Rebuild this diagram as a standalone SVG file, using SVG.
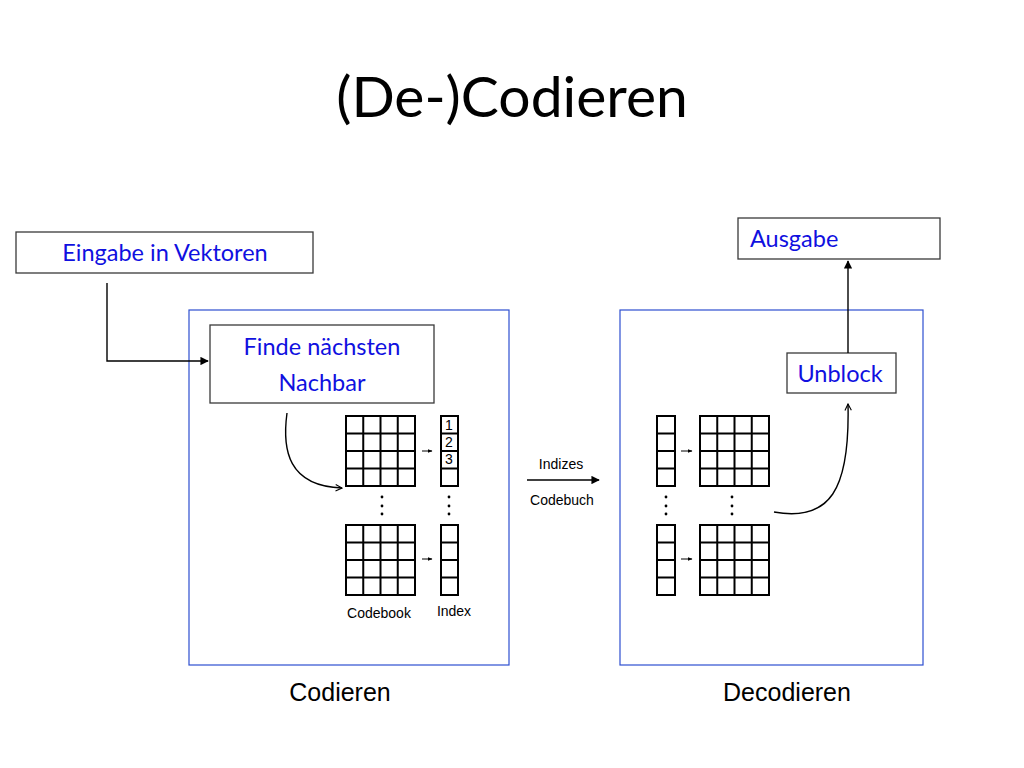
<svg xmlns="http://www.w3.org/2000/svg" width="1024" height="768" viewBox="0 0 1024 768">
<defs>
<marker id="ah" viewBox="0 0 10 10" refX="9" refY="5" markerWidth="6" markerHeight="6" orient="auto"><path d="M0,0 L10,5 L0,10 z" fill="#000"/></marker>
<marker id="oa" viewBox="0 0 10 10" refX="9" refY="5" markerWidth="8" markerHeight="8" orient="auto" markerUnits="userSpaceOnUse"><path d="M1,1 L9,5 L1,9" fill="none" stroke="#000" stroke-width="1.4"/></marker>
<marker id="sa" viewBox="0 0 10 10" refX="9" refY="5" markerWidth="5" markerHeight="5" orient="auto"><path d="M0,1 L10,5 L0,9 z" fill="#000"/></marker>
</defs>
<style>
.box{fill:#fff;stroke:#3a3a3a;stroke-width:1.3}
.frame{fill:none;stroke:#2d4fd0;stroke-width:1.2}
.bt{font-family:Lato,"Open Sans",sans-serif;font-size:23.5px;fill:#1010e0}
.g{fill:none;stroke:#000;stroke-width:2}
.sm{font-family:"Liberation Sans",Arial,sans-serif;font-size:14px;fill:#000}
.lb{font-family:"Liberation Sans",Arial,sans-serif;font-size:25px;fill:#000}
.ln{fill:none;stroke:#000;stroke-width:1.4}
.dot{fill:#000}
</style>
<rect width="1024" height="768" fill="#fff"/>
<text x="512" y="117" text-anchor="middle" font-family="Lato,'Open Sans',sans-serif" font-size="57" fill="#000">(De-)Codieren</text>

<g id="encoder-frame"><rect class="frame" x="189" y="310" width="320" height="355"/></g>
<g id="decoder-frame"><rect class="frame" x="620" y="310" width="303" height="355"/></g>

<g id="eingabe"><rect class="box" x="16" y="232" width="297" height="41"/><text class="bt" x="165" y="261" text-anchor="middle">Eingabe in Vektoren</text></g>
<g id="finde"><rect class="box" x="210" y="325" width="224" height="78"/><text class="bt" x="322" y="355" text-anchor="middle">Finde nächsten</text><text class="bt" x="322" y="391" text-anchor="middle">Nachbar</text></g>
<g id="ausgabe"><rect class="box" x="738" y="218" width="202" height="41"/><text class="bt" x="750" y="247">Ausgabe</text></g>
<g id="unblock"><rect class="box" x="787" y="353" width="109" height="40"/><text class="bt" x="840" y="382" text-anchor="middle">Unblock</text></g>

<g id="codebook">
<rect class="g" x="346" y="416" width="69" height="70"/>
<path class="g" d="M363.25,416V486M380.5,416V486M397.75,416V486M346,433.5H415M346,451H415M346,468.5H415"/>
<rect class="g" x="346" y="525" width="69" height="70"/>
<path class="g" d="M363.25,525V595M380.5,525V595M397.75,525V595M346,542.5H415M346,560H415M346,577.5H415"/>
<circle class="dot" cx="382" cy="497" r="1.4"/><circle class="dot" cx="382" cy="506" r="1.4"/><circle class="dot" cx="382" cy="514" r="1.4"/>
<text class="sm" x="379" y="618" text-anchor="middle">Codebook</text>
</g>
<g id="index">
<rect class="g" x="441" y="416" width="17" height="70"/>
<path class="g" d="M441,433.5H458M441,451H458M441,468.5H458"/>
<text class="sm" x="445" y="430" font-size="11">1</text><text class="sm" x="445" y="447" font-size="11">2</text><text class="sm" x="445" y="464" font-size="11">3</text>
<rect class="g" x="441" y="525" width="17" height="70"/>
<path class="g" d="M441,542.5H458M441,560H458M441,577.5H458"/>
<circle class="dot" cx="449" cy="497" r="1.4"/><circle class="dot" cx="449" cy="506" r="1.4"/><circle class="dot" cx="449" cy="514" r="1.4"/>
<text class="sm" x="454" y="616" text-anchor="middle">Index</text>
</g>

<g id="dec-index">
<rect class="g" x="657" y="416" width="18" height="70"/>
<path class="g" d="M657,433.5H675M657,451H675M657,468.5H675"/>
<rect class="g" x="657" y="525" width="18" height="70"/>
<path class="g" d="M657,542.5H675M657,560H675M657,577.5H675"/>
<circle class="dot" cx="666" cy="497" r="1.4"/><circle class="dot" cx="666" cy="506" r="1.4"/><circle class="dot" cx="666" cy="514" r="1.4"/>
</g>
<g id="dec-codebook">
<rect class="g" x="700" y="416" width="69" height="70"/>
<path class="g" d="M717.25,416V486M734.5,416V486M751.75,416V486M700,433.5H769M700,451H769M700,468.5H769"/>
<rect class="g" x="700" y="525" width="69" height="70"/>
<path class="g" d="M717.25,525V595M734.5,525V595M751.75,525V595M700,542.5H769M700,560H769M700,577.5H769"/>
<circle class="dot" cx="732" cy="497" r="1.4"/><circle class="dot" cx="732" cy="506" r="1.4"/><circle class="dot" cx="732" cy="514" r="1.4"/>
</g>

<g id="connectors">
<path class="ln" d="M107,283V361H208" marker-end="url(#ah)"/>
<path class="ln" d="M287,413C282,450 288,486 342,488" marker-end="url(#oa)"/>
<path class="ln" d="M848,353V261" marker-end="url(#ah)"/>
<path class="ln" d="M774,512C830,522 850,490 848,404" marker-end="url(#oa)"/>
<path class="ln" d="M527,480H599" stroke-width="1.3" marker-end="url(#ah)"/>
<path stroke="#000" stroke-width="1" d="M422,451H432" marker-end="url(#sa)"/>
<path stroke="#000" stroke-width="1" d="M422,559H432" marker-end="url(#sa)"/>
<path stroke="#000" stroke-width="1" d="M681,451H692" marker-end="url(#sa)"/>
<path stroke="#000" stroke-width="1" d="M681,559H692" marker-end="url(#sa)"/>
</g>
<text class="sm" x="561" y="469" text-anchor="middle">Indizes</text>
<text class="sm" x="562" y="505" text-anchor="middle">Codebuch</text>
<text class="lb" x="340" y="701" text-anchor="middle">Codieren</text>
<text class="lb" x="787" y="701" text-anchor="middle">Decodieren</text>
</svg>
